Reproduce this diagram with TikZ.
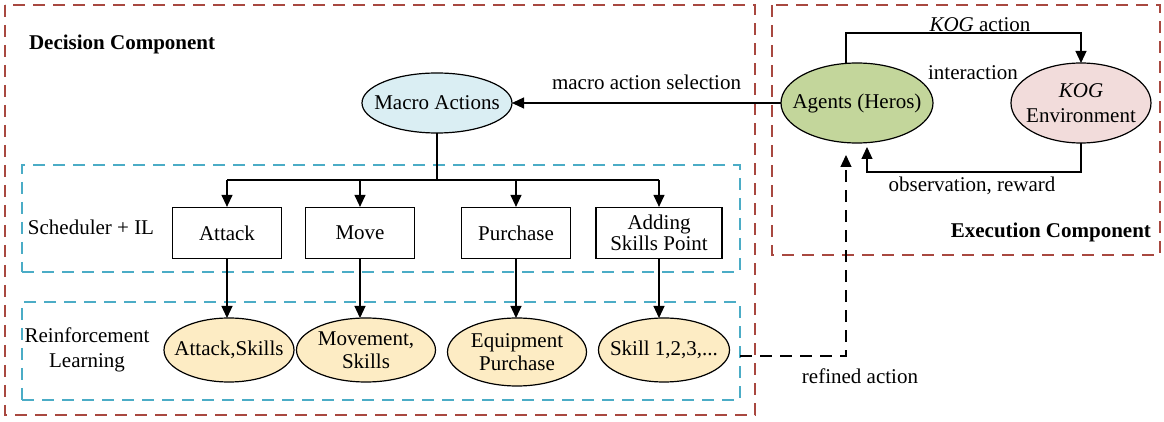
\documentclass[tikz,border=0pt]{standalone}
\usepackage{fontspec}
\setmainfont{Liberation Serif}
\usetikzlibrary{arrows.meta,shapes.geometric}
\definecolor{compred}{RGB}{168,72,64}
\definecolor{stagecyan}{RGB}{75,172,198}
\definecolor{macroblue}{RGB}{218,238,243}
\definecolor{agentgreen}{RGB}{195,214,155}
\definecolor{envpink}{RGB}{242,220,219}
\definecolor{skillyellow}{RGB}{253,236,196}

\begin{document}
\begin{tikzpicture}[x=0.5pt,y=-0.5pt,
	every node/.style={font=\fontsize{10.5}{12.5}\selectfont},
	ar/.style={-{Triangle[length=6pt,width=5.5pt]},line width=0.6pt},
	actbox/.style={draw,line width=0.6pt,minimum height=25.5pt,inner sep=1pt,align=center},
	ell/.style={ellipse,draw,line width=0.6pt,inner sep=0pt,outer sep=0pt},
	compbox/.style={draw=compred,line width=0.7pt,dash pattern=on 6pt off 4pt},
	stagebox/.style={draw=stagecyan,line width=0.7pt,dash pattern=on 6pt off 4pt,inner sep=0pt,outer sep=0pt,minimum width=359pt,minimum height=49pt}]
				\useasboundingbox (0,0) rectangle (1164,422);
				% components
				\draw[compbox] (5,5) rectangle (755,415);
				\draw[compbox] (772,5) rectangle (1160,255);
				\node[stagebox,minimum height=53.5pt] (slbox) at (381,218.5) {};
				\node[stagebox] (rlbox) at (381,351) {};
				
				\node[anchor=west,font=\fontsize{10.5}{12.5}\selectfont\bfseries] (dec) at (22,44) {Decision Component};
				\node[anchor=east,font=\fontsize{10.5}{12.5}\selectfont\bfseries] (exe) at (1158,232) {Execution Component};
				\node (sl) at (91,227) {Scheduler + IL};
				\node[align=center] (rl) at (87,350) {Reinforcement\\Learning};
				
				% ellipses
				\node[ell,fill=macroblue,minimum width=75pt,minimum height=30pt] (macro) at (437,103) {};
				\node at (macro) {Macro Actions};
				\node[ell,fill=agentgreen,minimum width=76pt,minimum height=40pt] (agents) at (857,103) {};
				\node at (agents) {Agents (Heros)};
				\node[ell,fill=envpink,minimum width=70pt,minimum height=40pt] (env) at (1081,103) {};
				\node[align=center] at (env) {\textit{KOG}\\Environment};
				
				% scheduler boxes
				\node[actbox,minimum width=54.5pt] (attack) at (227,233) {Attack};
				\node[actbox,minimum width=54.5pt] (move) at (360,233) {Move};
				\node[actbox,minimum width=54.5pt] (purchase) at (516,233) {Purchase};
				\node[actbox,minimum width=63pt] (adding) at (659,233) {Adding\\[-2pt]Skills Point};
				
				% reinforcement learning
				\node[ell,fill=skillyellow,minimum width=65pt,minimum height=32pt] (rlattack) at (229,350) {};
				\node at (rlattack) {Attack,Skills};
				\node[ell,fill=skillyellow,minimum width=69.5pt,minimum height=32pt] (rlmove) at (366,350) {};
				\node[align=center] at (rlmove) {Movement,\\[-1pt]Skills};
				\node[ell,fill=skillyellow,minimum width=69.5pt,minimum height=34pt] (rlpurchase) at (517,352) {};
				\node[align=center] at (rlpurchase) {Equipment\\[-1pt]Purchase};
				\node[ell,fill=skillyellow,minimum width=65.5pt,minimum height=32pt] (rlskill) at (664,350) {};
				\node at (rlskill) {Skill 1,2,3,...};
				
				% connectors
				\coordinate (fork) at (437,180);
				\coordinate (topy) at (0,33);
				\coordinate (boty) at (0,172);
				\draw[ar] (agents.west) -- node[above=3pt] (sel) {macro action selection} (macro.east);
				\draw[line width=0.6pt] (macro.south) -- (fork);
				\draw[line width=0.6pt] (attack |- fork) -- (adding |- fork);
				\foreach \b in {attack,move,purchase,adding}
					\draw[ar] (\b |- fork) -- (\b.north);
				\draw[ar] (attack.south) -- (attack.south |- rlattack.north);
				\draw[ar] (move.south) -- (move.south |- rlmove.north);
				\draw[ar] (purchase.south) -- (purchase.south |- rlpurchase.north);
				\draw[ar] (adding.south) -- (adding.south |- rlskill.north);
				\draw[ar] ([xshift=-5.5pt]agents.north) |- (env.north |- topy) -- (env.north);
				\draw[ar,shorten >=2pt] (env.south) -- (env.south |- boty) -| ([xshift=5pt]agents.south);
				\draw[ar,dash pattern=on 6pt off 4pt,shorten >=6pt] ([yshift=-2.5pt]rlbox.east) -| ([xshift=-5.5pt]agents.south);
				
				\node (kogact) at (980,25) {\textit{KOG} action};
				\node (inter) at (973,73) {interaction};
				\node (obs) at (972,186) {observation, reward};
				\node (refined) at (860,376) {refined action};
\end{tikzpicture}
\end{document}
